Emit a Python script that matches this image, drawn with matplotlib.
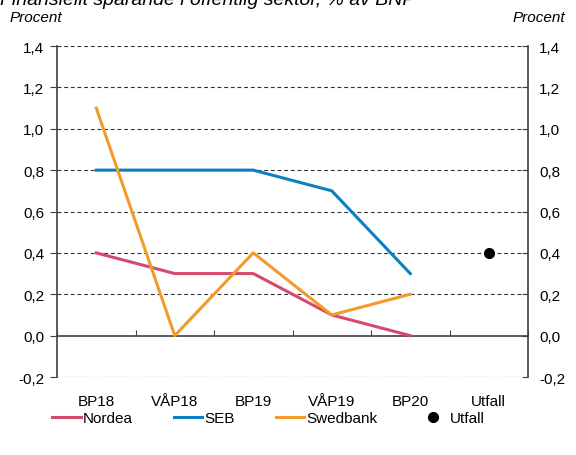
import numpy as np
import matplotlib.pyplot as plt
from matplotlib.lines import Line2D

plt.rcParams['font.family'] = ['Liberation Sans', 'DejaVu Sans']
plt.rcParams['font.size'] = 11

# data
categories = ['BP18', 'VÅP18', 'BP19', 'VÅP19', 'BP20', 'Utfall']
nordea = [0.4, 0.3, 0.3, 0.1, 0.0]
seb = [0.8, 0.8, 0.8, 0.7, 0.3]
swedbank = [1.1, 0.0, 0.4, 0.1, 0.2]
utfall = [0.4]
yticks = [-0.2, 0.0, 0.2, 0.4, 0.6, 0.8, 1.0, 1.2, 1.4]
ytick_labels = ['-0,2', '0,0', '0,2', '0,4', '0,6', '0,8', '1,0', '1,2', '1,4']

c_nordea = '#d6496c'
c_seb = '#0a80c3'
c_swed = '#f39b2a'
c_axis = '#404040'

fig = plt.figure(figsize=(5.76, 4.56), dpi=100)
ax = fig.add_axes([57/576, 1 - 378/456, (528 - 57)/576, (378 - 47)/456])

x = np.arange(len(categories))
ax.plot(x[:5], nordea, color=c_nordea, lw=2.2, zorder=3)
ax.plot(x[:5], seb, color=c_seb, lw=2.2, zorder=3)
ax.plot(x[:5], swedbank, color=c_swed, lw=2.2, zorder=3)
ax.plot(x[5:], utfall, 'o', color='black', ms=7, zorder=4)

ymin, ymax = yticks[0], yticks[-1]
ax.set_ylim(ymin, ymax)
ax.set_xlim(-0.5, len(categories) - 0.5)

# dashed grid, solid zero line
for y in yticks:
    if y != 0:
        ax.axhline(y, color='#333333', lw=0.8, ls=(0, (3.5, 2.5)), zorder=1)

ax.set_yticks(yticks)
ax.set_yticklabels(ytick_labels)
ax.tick_params(axis='y', direction='out', length=5, width=0.8, color=c_axis, pad=4, labelsize=11)
ax.set_xticks(x)
ax.set_xticklabels(categories)
ax.tick_params(axis='x', length=0, pad=12, labelsize=11)

for s in ['top', 'bottom', 'right']:
    ax.spines[s].set_visible(False)
ax.spines['left'].set_color(c_axis)
ax.spines['left'].set_linewidth(1.2)

ax2 = ax.twinx()
ax2.set_ylim(ymin, ymax)
ax2.set_yticks(yticks)
ax2.set_yticklabels(ytick_labels)
ax2.tick_params(axis='y', direction='in', length=4, width=0.8, color=c_axis, pad=8, labelsize=11)
for s in ['top', 'bottom', 'left']:
    ax2.spines[s].set_visible(False)
ax2.spines['right'].set_color(c_axis)
ax2.spines['right'].set_linewidth(1.2)

# zero axis with category boundary ticks
zero_frac = (0 - ymin) / (ymax - ymin)
sec = ax.secondary_xaxis(zero_frac)
sec.set_xticks(np.arange(len(categories) + 1) - 0.5)
sec.tick_params(direction='in', length=4, width=0.8, color=c_axis, labelbottom=False)
sec.spines['bottom'].set_color(c_axis)
sec.spines['bottom'].set_linewidth(1.2)

fig.text(10/576, 1 - 18/456, 'Procent', style='italic', ha='left', va='center', fontsize=11)
fig.text(565/576, 1 - 18/456, 'Procent', style='italic', ha='right', va='center', fontsize=11)
fig.text(0.0, 1 - 5/456, 'Finansiellt sparande i offentlig sektor, % av BNP',
         style='italic', ha='left', va='baseline', fontsize=14)

handles = [Line2D([], [], color=c_nordea, lw=2.2),
           Line2D([], [], color=c_seb, lw=2.2),
           Line2D([], [], color=c_swed, lw=2.2),
           Line2D([], [], color='black', marker='o', ls='none', ms=7)]
fig.legend(handles, ['Nordea', 'SEB', 'Swedbank', 'Utfall'], loc='center',
           bbox_to_anchor=(0.466, 1 - 419/456), ncol=4, frameon=False,
           fontsize=11, handlelength=1.85, handletextpad=0.15, columnspacing=2.7)

fig.savefig('out.png', dpi=100)
